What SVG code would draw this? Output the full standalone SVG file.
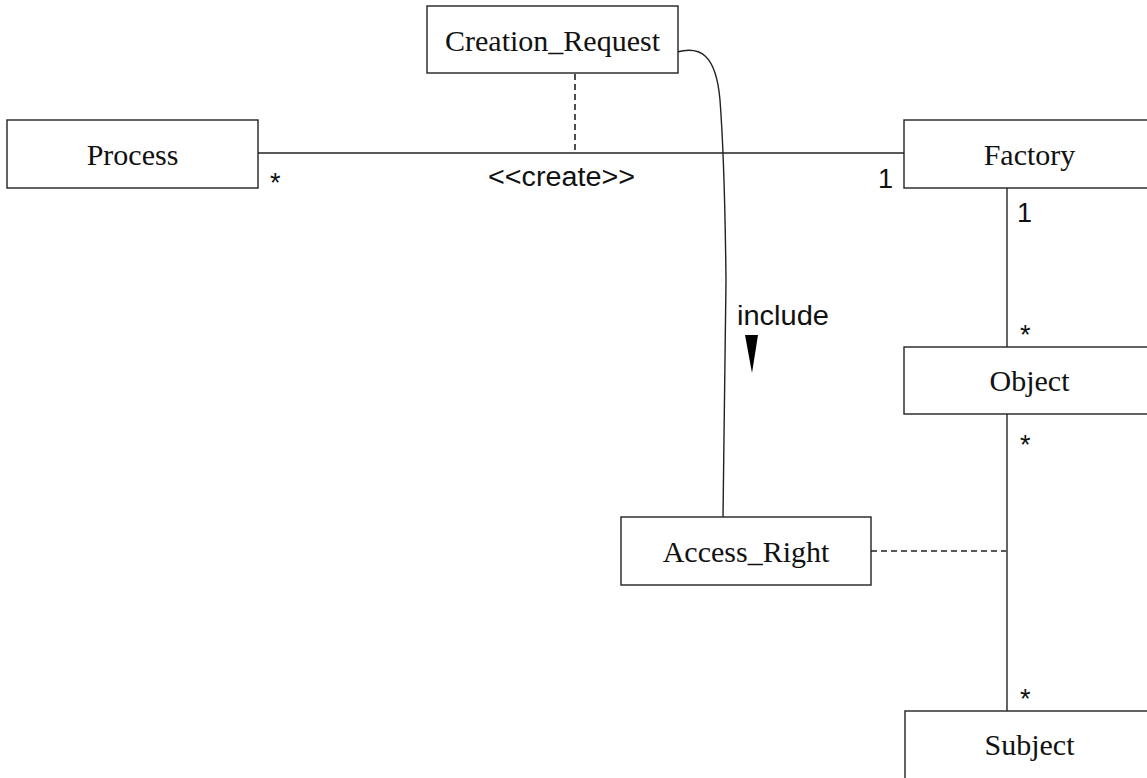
<svg xmlns="http://www.w3.org/2000/svg" width="1147" height="778" viewBox="0 0 1147 778">
  <style>
    .box { fill: #ffffff; stroke: #222222; stroke-width: 1.4; }
    .name { font-family: "Liberation Serif", "Times New Roman", serif; font-size: 30px; fill: #111111; text-anchor: middle; }
    .line { fill: none; stroke: #222222; stroke-width: 1.4; }
    .dash { fill: none; stroke: #222222; stroke-width: 1.6; stroke-dasharray: 6 4; }
    .lbl { font-family: "Liberation Sans", Arial, sans-serif; font-size: 27px; fill: #111111; }
  </style>
  <rect width="1147" height="778" fill="#ffffff"/>

  <!-- associations and links -->
  <g id="connectors">
    <line class="line" x1="258" y1="153" x2="904" y2="153"/>
    <line class="dash" x1="575" y1="74" x2="575" y2="153"/>
    <line class="line" x1="1007" y1="188" x2="1007" y2="347"/>
    <line class="line" x1="1007" y1="414" x2="1007" y2="711"/>
    <line class="dash" x1="871" y1="551" x2="1006" y2="551"/>
    <path class="line" d="M677,52 C700,46 716,54 720,100 C723,140 725,190 726,280 L723,517"/>
    <polygon points="745,335 758,335 752,373" fill="#000000"/>
    <text class="lbl" x="270" y="192">*</text>
    <text class="lbl" x="488" y="186" textLength="147" lengthAdjust="spacingAndGlyphs">&lt;&lt;create&gt;&gt;</text>
    <text class="lbl" x="878" y="188">1</text>
    <text class="lbl" x="1017" y="222">1</text>
    <text class="lbl" x="1020" y="344">*</text>
    <text class="lbl" x="1020" y="454">*</text>
    <text class="lbl" x="1020" y="708">*</text>
    <text class="lbl" x="737" y="325" textLength="92" lengthAdjust="spacingAndGlyphs">include</text>
  </g>

  <g id="creation_request">
    <rect class="box" x="427" y="6" width="251" height="67"/>
    <text class="name" x="552.5" y="51">Creation_Request</text>
  </g>
  <g id="process">
    <rect class="box" x="7" y="120" width="251" height="68"/>
    <text class="name" x="132.5" y="165">Process</text>
  </g>
  <g id="factory">
    <rect class="box" x="904" y="120" width="251" height="68"/>
    <text class="name" x="1029.5" y="165">Factory</text>
  </g>
  <g id="object">
    <rect class="box" x="904" y="347" width="251" height="67"/>
    <text class="name" x="1029.5" y="391">Object</text>
  </g>
  <g id="access_right">
    <rect class="box" x="621" y="517" width="250" height="68"/>
    <text class="name" x="746" y="562">Access_Right</text>
  </g>
  <g id="subject">
    <rect class="box" x="905" y="711" width="251" height="68"/>
    <text class="name" x="1029.5" y="755">Subject</text>
  </g>
</svg>
